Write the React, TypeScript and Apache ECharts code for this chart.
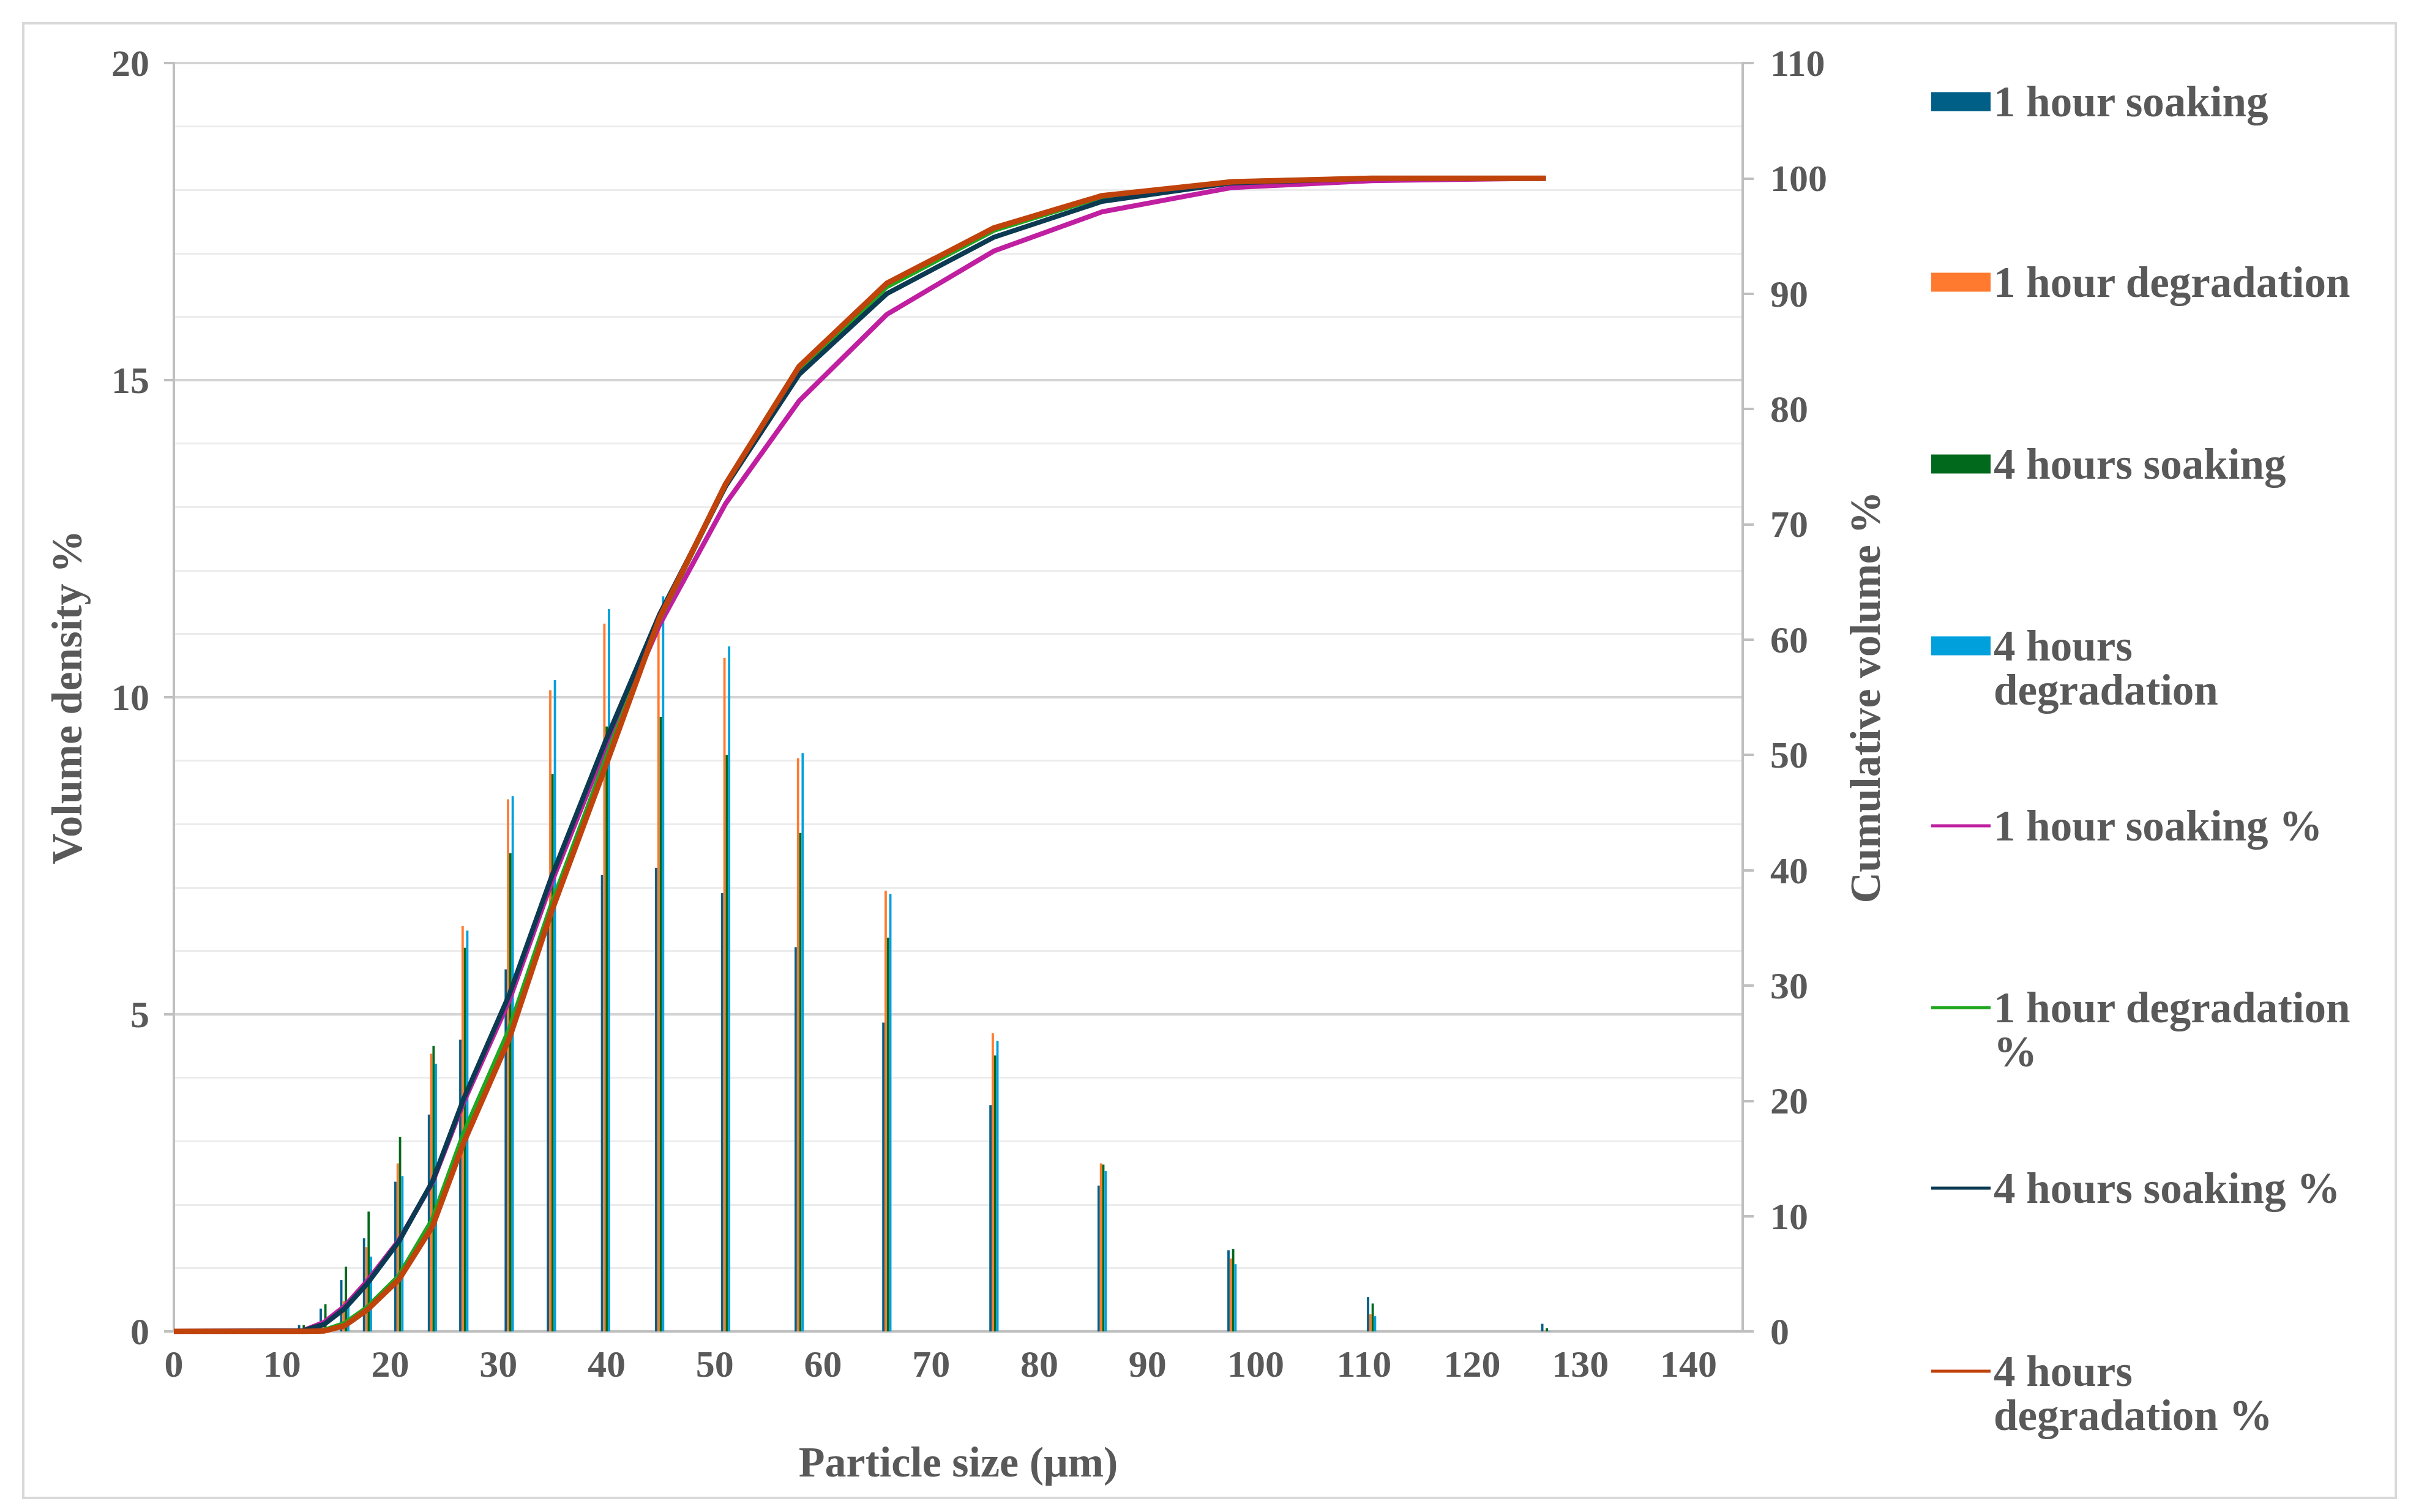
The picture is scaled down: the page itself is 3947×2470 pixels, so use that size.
import React, { useEffect, useRef } from "react";
import * as echarts from "echarts";

// Particle size bins (µm)
const sizes = [11.9, 13.9, 15.8, 17.9, 20.8, 23.9, 26.8, 31.0, 34.9, 39.9, 44.9, 51.0, 57.8, 65.9, 75.8, 85.8, 97.8, 110.7, 126.8];

// Volume density % (bars)
const soak1h = [0.10, 0.36, 0.81, 1.47, 2.36, 3.42, 4.60, 5.71, 6.40, 7.20, 7.31, 6.91, 6.06, 4.87, 3.57, 2.30, 1.28, 0.54, 0.12];
const degr1h = [0.02, 0.08, 0.48, 1.33, 2.65, 4.38, 6.39, 8.39, 10.11, 11.16, 11.30, 10.62, 9.04, 6.95, 4.70, 2.65, 1.15, 0.27, 0.01];
const soak4h = [0.10, 0.43, 1.02, 1.89, 3.07, 4.50, 6.05, 7.54, 8.79, 9.54, 9.69, 9.09, 7.86, 6.21, 4.35, 2.63, 1.30, 0.44, 0.05];
const degr4h = [0.02, 0.06, 0.45, 1.18, 2.45, 4.22, 6.32, 8.44, 10.27, 11.39, 11.59, 10.80, 9.12, 6.90, 4.58, 2.53, 1.06, 0.24, 0.01];

// Cumulative volume % (lines)
const cumSizes = [0, 11.9, 13.9, 15.8, 17.9, 20.8, 23.9, 26.8, 31.0, 34.9, 39.9, 44.9, 51.0, 57.8, 65.9, 75.8, 85.8, 97.8, 110.7, 126.8];
const cumSoak1h = [0, 0.05, 0.8, 2.2, 4.4, 7.9, 12.9, 19.9, 28.7, 38.9, 50.6, 61.3, 71.8, 80.7, 88.2, 93.7, 97.1, 99.2, 99.8, 100];
const cumDegr1h = [0, 0, 0.1, 0.7, 2.1, 4.8, 9.7, 17.2, 26.2, 37.0, 49.6, 61.8, 73.4, 83.4, 90.6, 95.5, 98.4, 99.7, 100, 100];
const cumSoak4h = [0, 0.05, 0.62, 1.99, 4.17, 7.8, 13.0, 20.2, 29.2, 39.4, 51.2, 62.2, 73.3, 83.0, 90.0, 94.9, 98.0, 99.6, 100, 100];
const cumDegr4h = [0, 0, 0.04, 0.5, 1.9, 4.5, 9.1, 16.4, 25.4, 36.4, 49.0, 61.9, 73.5, 83.7, 90.9, 95.7, 98.5, 99.7, 100, 100];

const barNames = ["1 hour soaking", "1 hour degradation", "4 hours soaking", "4 hours degradation"];
const lineNames = ["1 hour soaking %", "1 hour degradation %", "4 hours soaking %", "4 hours degradation %"];
const barColors = ["#005f87", "#ff7a2f", "#00691c", "#00a0dc"];
const lineColors = ["#bf1fa0", "#1fa81f", "#0b3a52", "#c0430c"];

const FONT = "'Liberation Serif', 'Times New Roman', serif";
const TXT = "#595959";

export default function App() {
  const ref = useRef<HTMLDivElement>(null);

  useEffect(() => {
    if (!ref.current) return;
    const chart = echarts.init(ref.current, null, { renderer: "svg" });

    const barData = [soak1h, degr1h, soak4h, degr4h];
    const lineData = [cumSoak1h, cumDegr1h, cumSoak4h, cumDegr4h];

    const barSeries = barNames.map((name, k) => ({
      name,
      type: "bar",
      xAxisIndex: 0,
      yAxisIndex: 0,
      barWidth: 3.8,
      barGap: "0%",
      itemStyle: { color: barColors[k] },
      data: sizes.map((s, i) => [s, barData[k][i]]),
      z: 2,
    }));

    const lineSeries = lineNames.map((name, k) => ({
      name,
      type: "line",
      xAxisIndex: 0,
      yAxisIndex: 1,
      showSymbol: false,
      symbol: "none",
      lineStyle: { color: lineColors[k], width: k === 3 ? 9 : 8 },
      itemStyle: { color: lineColors[k] },
      data: cumSizes.map((s, i) => [s, lineData[k][i]]),
      z: 3,
    }));

    // legend layout: [name, centerY of first line, isBar, formatted text]
    const legendItems: [string, number, boolean, string][] = [
      ["1 hour soaking", 166, true, "1 hour soaking"],
      ["1 hour degradation", 461, true, "1 hour degradation"],
      ["4 hours soaking", 758, true, "4 hours soaking"],
      ["4 hours degradation", 1055, true, " \n4 hours\ndegradation"],
      ["1 hour soaking %", 1349, false, "1 hour soaking %"],
      ["1 hour degradation %", 1646, false, " \n1 hour degradation\n%"],
      ["4 hours soaking %", 1941, false, "4 hours soaking %"],
      ["4 hours degradation %", 2240, false, " \n4 hours\ndegradation %"],
    ];
    const LH = 72;
    const legends = legendItems.map(([name, cy, isBar, text]) => {
      const lines = text.split("\n").length;
      const h = lines * LH;
      return {
        data: [name],
        left: 3155,
        top: cy - h / 2,
        orient: "vertical",
        icon: "rect",
        itemWidth: 97,
        itemHeight: isBar ? 31 : 5,
        selectedMode: false,
        padding: 0,
        formatter: () => text,
        textStyle: {
          fontFamily: FONT,
          fontWeight: "bold",
          fontSize: 71,
          lineHeight: LH,
          color: TXT,
        },
      };
    });

    const option = {
      animation: false,
      backgroundColor: "#ffffff",
      grid: { left: 284, right: 1100, top: 103, bottom: 295, containLabel: false },
      legend: legends,
      graphic: [
        {
          type: "rect",
          shape: { x: 38, y: 38, width: 3876, height: 2409 },
          style: { fill: "none", stroke: "#d9d9d9", lineWidth: 4 },
          silent: true,
        },
      ],
      xAxis: {
        type: "value",
        min: 0,
        max: 145,
        interval: 10,
        name: "Particle size (μm)",
        nameLocation: "middle",
        nameGap: 178,
        nameTextStyle: { fontFamily: FONT, fontWeight: "bold", fontSize: 70, color: TXT },
        axisLine: { show: true, onZero: false, lineStyle: { color: "#bfbfbf", width: 4 } },
        axisTick: { show: false },
        splitLine: { show: false },
        axisLabel: {
          margin: 22,
          fontFamily: FONT,
          fontWeight: "bold",
          fontSize: 62,
          color: TXT,
          formatter: (v: number) => (Math.abs(v % 10) < 1e-9 && v <= 140 ? String(v) : ""),
        },
      },
      yAxis: [
        {
          type: "value",
          min: 0,
          max: 20,
          interval: 5,
          name: "Volume density %",
          nameLocation: "middle",
          nameGap: 140,
          nameRotate: 90,
          nameTextStyle: { fontFamily: FONT, fontWeight: "bold", fontSize: 70, color: TXT },
          axisLine: { show: true, lineStyle: { color: "#bfbfbf", width: 4 } },
          axisTick: { show: true, length: 16, lineStyle: { color: "#bfbfbf", width: 4 } },
          splitLine: { show: true, lineStyle: { color: "#d4d4d4", width: 4 } },
          minorTick: { show: false, splitNumber: 5 },
          minorSplitLine: { show: true, lineStyle: { color: "#ececec", width: 3 } },
          axisLabel: {
            margin: 40,
            fontFamily: FONT,
            fontWeight: "bold",
            fontSize: 62,
            color: TXT,
          },
        },
        {
          type: "value",
          min: 0,
          max: 110,
          interval: 10,
          position: "right",
          name: "Cumulative volume %",
          nameLocation: "middle",
          nameGap: 165,
          nameRotate: 90,
          nameTextStyle: { fontFamily: FONT, fontWeight: "bold", fontSize: 70, color: TXT },
          axisLine: { show: true, lineStyle: { color: "#bfbfbf", width: 4 } },
          axisTick: { show: true, length: 18, lineStyle: { color: "#bfbfbf", width: 4 } },
          splitLine: { show: false },
          axisLabel: {
            margin: 45,
            fontFamily: FONT,
            fontWeight: "bold",
            fontSize: 62,
            color: TXT,
          },
        },
      ],
      series: [...barSeries, ...lineSeries],
    };

    chart.setOption(option as any);
    return () => chart.dispose();
  }, []);

  return (
    <div
      ref={ref}
      style={{ position: "fixed", left: 0, top: 0, width: 3947, height: 2470, background: "#fff" }}
    />
  );
}
